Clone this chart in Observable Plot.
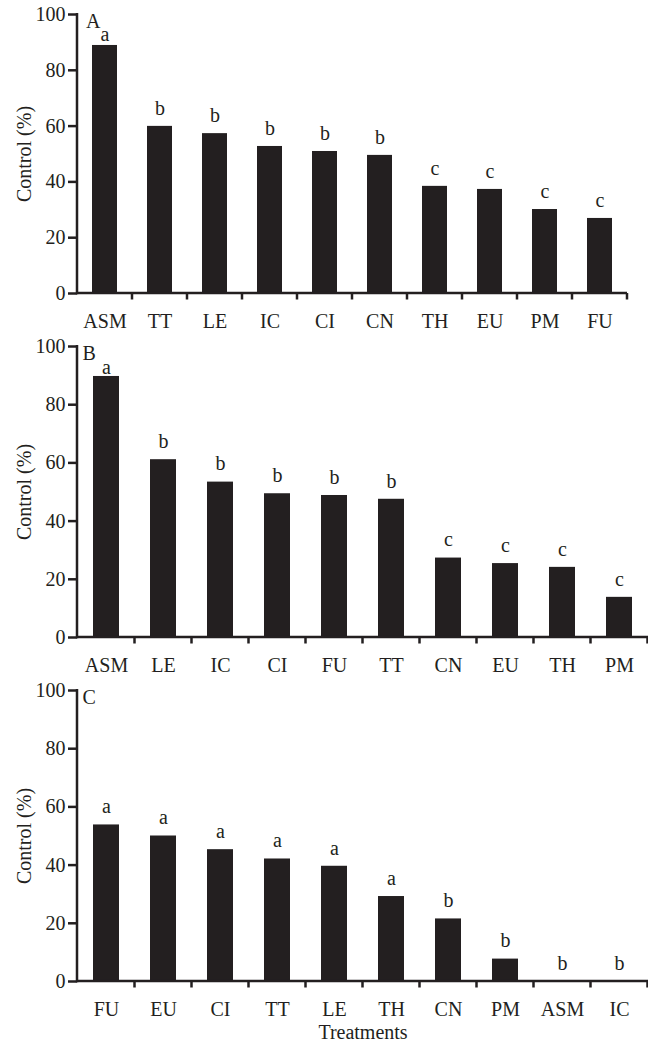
<!DOCTYPE html>
<html>
<head>
<meta charset="utf-8">
<script src="https://cdn.jsdelivr.net/npm/d3@7"></script>
<script src="https://cdn.jsdelivr.net/npm/@observablehq/plot@0.6"></script>
<style>
  html, body { margin: 0; padding: 0; background: #fff; }
  #chart { width: 648px; }
  #chart svg { display: block; }
</style>
</head>
<body>
<div id="chart"></div>
<script>
// Panel A
const catsA = ["ASM","TT","LE","IC","CI","CN","TH","EU","PM","FU"];
const valsA = [88.9, 59.9, 57.3, 52.7, 50.9, 49.5, 38.4, 37.3, 30.1, 26.9];
const letA  = ["a","b","b","b","b","b","c","c","c","c"];
// Panel B
const catsB = ["ASM","LE","IC","CI","FU","TT","CN","EU","TH","PM"];
const valsB = [89.7, 61.1, 53.4, 49.4, 48.8, 47.5, 27.3, 25.4, 24.1, 13.8];
const letB  = ["a","b","b","b","b","b","c","c","c","c"];
// Panel C
const catsC = ["FU","EU","CI","TT","LE","TH","CN","PM","ASM","IC"];
const valsC = [53.8, 50.0, 45.3, 42.1, 39.6, 29.2, 21.5, 7.7, 0, 0];
const letC  = ["a","a","a","a","a","a","b","b","b","b"];

const yTicks = [0, 20, 40, 60, 80, 100];
const yLabel = "Control (%)";
const xLabel = "Treatments";

const ink = "#231f20";
const font = "'Liberation Serif', 'Times New Roman', Times, serif";
const fs = 20;

function axesMark(index, scales, values, dims) {
  const {x, y} = scales;
  const g = d3.create("svg:g").attr("stroke", ink).attr("stroke-width", 2.5).attr("fill", "none");
  const x0 = dims.marginLeft, x1 = dims.width - dims.marginRight;
  const yb = y(0), yt = y(100);
  g.append("line").attr("x1", x0).attr("x2", x0).attr("y1", yt - 1).attr("y2", yb + 1.25);
  g.append("line").attr("x1", x0).attr("x2", x1).attr("y1", yb).attr("y2", yb);
  const dom = x.domain();
  const step = x(dom[1]) - x(dom[0]);
  const bw = x.bandwidth();
  dom.forEach(c => {
    const bx = x(c) + bw / 2 + step / 2;
    g.append("line").attr("x1", bx).attr("x2", bx).attr("y1", yb).attr("y2", yb + 6.5);
  });
  return g.node();
}

function panel({cats, vals, lets, tag, tagDx, height, marginTop, marginBottom, marginRight, last}) {
  const data = cats.map((c, i) => ({c, v: vals[i], l: lets[i]}));
  const marks = [
    Plot.barY(data, {x: "c", y: "v", fill: ink}),
    Plot.text(data, {x: "c", y: d => Math.min(d.v + 4, 90.5), text: "l", lineAnchor: "bottom",
      fontSize: fs, fontFamily: font, fill: ink}),
    Plot.axisY({ticks: yTicks, tickSize: 9, tickPadding: 3, fontSize: fs, fontFamily: font,
      stroke: ink, strokeWidth: 2.5, fill: ink, label: null}),
    Plot.axisX({tickSize: 0, tickPadding: 20, fontSize: fs, fontFamily: font, fill: ink, label: null}),
    Plot.text([yLabel], {frameAnchor: "left", dx: -53, rotate: -90, textAnchor: "middle", text: d => d,
      fontSize: fs, fontFamily: font, fill: ink}),
    Plot.text([tag], {frameAnchor: "top-left", dx: tagDx, dy: -1, lineAnchor: "top", textAnchor: "start", text: d => d,
      fontSize: fs, fontFamily: font, fill: ink}),
    axesMark
  ];
  if (last) {
    marks.push(Plot.text([xLabel], {frameAnchor: "bottom", dy: 57, lineAnchor: "bottom", textAnchor: "middle", text: d => d,
      fontSize: fs, fontFamily: font, fill: ink}));
  }
  return Plot.plot({
    width: 648,
    height,
    marginLeft: 77,
    marginRight,
    marginTop,
    marginBottom,
    style: {background: "#fff", overflow: "visible", fontFamily: font, color: ink},
    x: {domain: cats, paddingInner: 0.55, paddingOuter: 0.275, label: null},
    y: {domain: [0, 100], label: null},
    marks
  });
}

const chart = document.getElementById("chart");
chart.append(panel({cats: catsA, vals: valsA, lets: letA, tag: "A", tagDx: 8.5,
  height: 333, marginTop: 14, marginBottom: 40, marginRight: 21}));
chart.append(panel({cats: catsB, vals: valsB, lets: letB, tag: "B", tagDx: 5,
  height: 343, marginTop: 13, marginBottom: 39, marginRight: 0}));
chart.append(panel({cats: catsC, vals: valsC, lets: letC, tag: "C", tagDx: 5,
  height: 365, marginTop: 14, marginBottom: 60, marginRight: 0, last: true}));
</script>
</body>
</html>
